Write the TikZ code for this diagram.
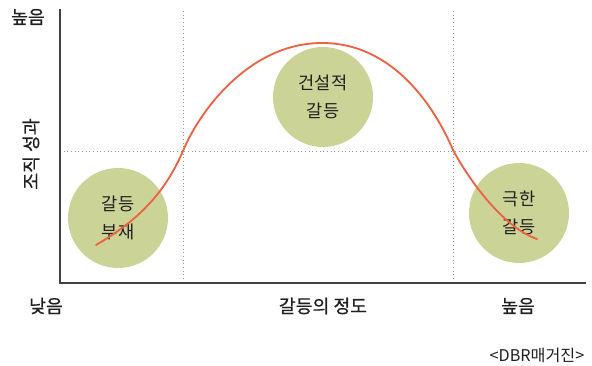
\documentclass[tikz,border=0pt]{standalone}
\usepackage{fontspec}
\setmainfont{Noto Sans CJK KR}
\newfontfamily\medfont[FakeBold=0.7]{Noto Sans CJK KR}
\usepackage{tikz}
\usetikzlibrary{positioning, calc}
\definecolor{mydark}{RGB}{35,31,32}
\definecolor{myorange}{RGB}{236,98,66}
\definecolor{mygreen}{RGB}{203,212,150}
\definecolor{mygrid}{RGB}{150,150,150}
\tikzset{
  blob/.style={circle, fill=mygreen, minimum size=100*0.025cm, inner sep=0pt,
    align=center, font=\fontsize{12.5}{20}\selectfont, text=mydark},
  axis/.style={line width=0.8pt, color=mydark!85},
  guide/.style={dotted, line width=0.6pt, color=mygrid},
  curve/.style={line width=1.3pt, color=myorange, line cap=round},
  lbl/.style={font=\medfont\fontsize{13}{15}\selectfont, text=mydark}
}
\begin{document}
\begin{tikzpicture}[x=0.025cm, y=-0.025cm]
  \useasboundingbox (0,0) rectangle (592,366);
  % circles behind everything
  \node[blob] (low) at (118,218) {갈등\\부재};
  \node[blob] (mid) at (323,97) {건설적\\갈등};
  \node[blob] (high) at (519,213) {극한\\갈등};
  % guide lines
  \coordinate (o) at (60,283);
  \draw[guide] (183,11) -- (183,283);
  \draw[guide] (453,11) -- (453,283);
  \draw[guide] (60,151) -- (590,151);
  % axes
  \draw[axis] (60,9) -- (o) -- (586,283);
  % performance curve
  \draw[curve] (96,245) .. controls (130,225) and (162,200) .. (183,151)
    .. controls (200,110) and (250,43) .. (322,43)
    .. controls (395,43) and (436,110) .. (453,150)
    .. controls (472,185) and (505,228) .. (537,239);
  % axis labels
  \node[lbl] (yhigh) at (28,17) {높음};
  \node[lbl, rotate=90] (ytitle) at (31,154) {조직 성과};
  \node[lbl] (xlow) at (46,306) {낮음};
  \node[lbl] (xtitle) at (323,306) {갈등의 정도};
  \node[lbl] (xhigh) at (518,306) {높음};
  \node[font=\fontsize{11.5}{13}\selectfont, text=mydark] (src) at (537,355) {<DBR매거진>};
\end{tikzpicture}
\end{document}
